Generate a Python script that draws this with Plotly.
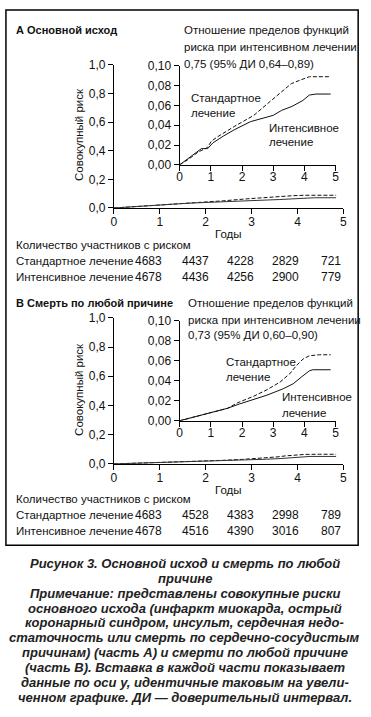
import plotly.graph_objects as go

W, H = 371, 717

# ---------------- data ----------------
years_A_int = [0, 0.3, 0.7, 0.9, 1.07, 1.4, 1.75, 2.27, 2.8, 3.0, 3.27, 3.6, 3.95, 4.16, 4.37, 4.84]
risk_A_int = [0, 0.007, 0.0164, 0.0164, 0.0223, 0.029, 0.0354, 0.0436, 0.048, 0.050, 0.055, 0.059, 0.065, 0.0705, 0.0715, 0.0715]
years_A_std = [0, 0.3, 0.6, 0.89, 1.02, 1.2, 1.75, 2.38, 2.9, 3.32, 3.58, 3.9, 4.16, 4.84]
risk_A_std = [0, 0.006, 0.013, 0.0175, 0.024, 0.028, 0.0387, 0.050, 0.064, 0.0748, 0.082, 0.086, 0.089, 0.089]

years_B_int = [0, 0.7, 1.54, 1.91, 2.27, 2.8, 3.32, 3.64, 3.9, 4.16, 4.27, 4.84]
risk_B_int = [0, 0.0059, 0.0125, 0.0167, 0.020, 0.0256, 0.032, 0.037, 0.0436, 0.050, 0.051, 0.051]
years_B_std = [0, 0.7, 1.54, 1.86, 2.38, 2.8, 3.22, 3.53, 3.74, 3.95, 4.16, 4.48, 4.84]
risk_B_std = [0, 0.006, 0.0125, 0.018, 0.0246, 0.031, 0.0387, 0.047, 0.055, 0.0616, 0.065, 0.066, 0.066]

x_ticks = [0, 1, 2, 3, 4, 5]
x_ticktext = ["0", "1", "2", "3", "4", "5"]
main_y_ticks = [0, 0.2, 0.4, 0.6, 0.8, 1.0]
main_y_ticktext = ["0,0", "0,2", "0,4", "0,6", "0,8", "1,0"]
inset_y_ticks = [0, 0.02, 0.04, 0.06, 0.08, 0.10]
inset_y_ticktext = ["0,00", "0,02", "0,04", "0,06", "0,08", "0,10"]

risk_A_std_n = [4683, 4437, 4228, 2829, 721]
risk_A_int_n = [4678, 4436, 4256, 2900, 779]
risk_B_std_n = [4683, 4528, 4383, 2998, 789]
risk_B_int_n = [4678, 4516, 4390, 3016, 807]

title_A = ["Отношение пределов функций", "риска при интенсивном лечении", "0,75 (95% ДИ 0,64–0,89)"]
title_B = ["Отношение пределов функций", "риска при интенсивном лечении", "0,73 (95% ДИ 0,60–0,90)"]

caption = [
    "Рисунок 3. Основной исход и смерть по любой",
    "причине",
    "Примечание: представлены совокупные риски",
    "основного исхода (инфаркт миокарда, острый",
    "коронарный синдром, инсульт, сердечная недо-",
    "статочность или смерть по сердечно-сосудистым",
    "причинам) (часть А) и смерти по любой причине",
    "(часть В). Вставка в каждой части показывает",
    "данные по оси у, идентичные таковым на увели-",
    "ченном графике. ДИ — доверительный интервал.",
]

# ---------------- layout helpers ----------------
def px(x):
    return x / W

def py(y):
    return 1 - y / H

FONT = "Liberation Sans, Arial, sans-serif"
TXT = "#111111"
FS = 11.5

fig = go.Figure()

def add_curves(xa, ya, xs_i, ys_i, xs_s, ys_s, solid_color):
    fig.add_trace(go.Scatter(x=xs_s, y=ys_s, mode="lines", xaxis=xa, yaxis=ya,
                             line=dict(color="#111111", width=1, dash="4px,2px"),
                             showlegend=False, hoverinfo="skip"))
    fig.add_trace(go.Scatter(x=xs_i, y=ys_i, mode="lines", xaxis=xa, yaxis=ya,
                             line=dict(color=solid_color, width=1),
                             showlegend=False, hoverinfo="skip"))

add_curves("x", "y", years_A_int, risk_A_int, years_A_std, risk_A_std, "#333333")
add_curves("x2", "y2", years_A_int, risk_A_int, years_A_std, risk_A_std, "#111111")
add_curves("x3", "y3", years_B_int, risk_B_int, years_B_std, risk_B_std, "#333333")
add_curves("x4", "y4", years_B_int, risk_B_int, years_B_std, risk_B_std, "#111111")

axis_common = dict(showline=True, linecolor="black", linewidth=1, ticks="outside",
                   ticklen=5, tickwidth=1, tickcolor="black", showgrid=False,
                   zeroline=False, fixedrange=True,
                   tickfont=dict(family=FONT, size=12, color=TXT))

main_xdom = [px(113), px(347)]
inset_xdom = [px(180), px(339)]

def xax(anchor, dom, standoff):
    d = dict(axis_common)
    d.update(domain=dom, range=[0, 5], tickvals=x_ticks, ticktext=x_ticktext, anchor=anchor,
             ticklabelstandoff=standoff)
    return d

def yax(anchor, dom, rng, tv, tt):
    d = dict(axis_common)
    d.update(domain=dom, range=rng, tickvals=tv, ticktext=tt, anchor=anchor)
    return d

layout = dict(
    width=W, height=H,
    margin=dict(l=0, r=0, t=0, b=0),
    paper_bgcolor="white", plot_bgcolor="rgba(0,0,0,0)",
    xaxis=xax("y", main_xdom, -2),
    yaxis=yax("x", [py(205), py(59)], [0, 1.0], main_y_ticks, main_y_ticktext),
    xaxis2=xax("y2", inset_xdom, -4),
    yaxis2=yax("x2", [py(161), py(60)], [0, 0.10], inset_y_ticks, inset_y_ticktext),
    xaxis3=xax("y3", main_xdom, -2),
    yaxis3=yax("x3", [py(466), py(317)], [0, 1.0], main_y_ticks, main_y_ticktext),
    xaxis4=xax("y4", inset_xdom, -4),
    yaxis4=yax("x4", [py(422), py(320)], [0, 0.10], inset_y_ticks, inset_y_ticktext),
)
fig.update_layout(**layout)

ann = []

def text(x, y, s, size=FS, bold=False, anchor="left", angle=0, color=TXT, italic=False):
    t = s
    if bold:
        t = "<b>" + t + "</b>"
    if italic:
        t = "<i>" + t + "</i>"
    ann.append(dict(x=px(x), y=py(y), xref="paper", yref="paper", text=t,
                    showarrow=False, xanchor=anchor, yanchor="middle", textangle=angle,
                    borderpad=0, font=dict(family=FONT, size=size, color=color)))

# Panel headers
text(12, 23, "А Основной исход", bold=True, size=11)
for i, s in enumerate(title_A):
    text(183, [23, 41, 58][i], s)
text(12, 302, "В Смерть по любой причине", bold=True, size=11)
for i, s in enumerate(title_B):
    text(188, [302, 319, 335][i], s)

# Axis titles
text(78, 130, "Совокупный риск", anchor="center", angle=-90)
text(78, 390, "Совокупный риск", anchor="center", angle=-90)
text(230, 232, "Годы", anchor="center")
text(230, 493, "Годы", anchor="center")

# Inset curve labels
text(191, 93, "Стандартное")
text(191, 108, "лечение")
text(270, 123, "Интенсивное")
text(270, 138, "лечение")
text(226, 362, "Стандартное")
text(226, 377, "лечение")
text(283, 398, "Интенсивное")
text(283, 414, "лечение")

# Number at risk tables
col_x = [148, 196, 242, 288, 334]
def table(y0, std_n, int_n):
    text(12, y0, "Количество участников с риском")
    text(12, y0 + 16, "Стандартное лечение")
    text(12, y0 + 32, "Интенсивное лечение")
    for cx, v in zip(col_x, std_n):
        text(cx, y0 + 16, str(v), anchor="center", size=12)
    for cx, v in zip(col_x, int_n):
        text(cx, y0 + 32, str(v), anchor="center", size=12)

table(243, risk_A_std_n, risk_A_int_n)
table(502, risk_B_std_n, risk_B_int_n)

# Caption
cap_y = [568, 583, 598, 613, 628, 643, 658, 674, 689, 704]
for yy, s in zip(cap_y, caption):
    text(185, yy, s, size=13, bold=True, italic=True, anchor="center", color="#222222")

fig.update_layout(annotations=ann)

# Border
fig.add_shape(type="rect", xref="paper", yref="paper",
              x0=px(3), x1=px(362), y0=py(549), y1=py(3),
              line=dict(color="black", width=1.5), fillcolor="rgba(0,0,0,0)")

fig.write_html("out.html", config=dict(displayModeBar=False),
               post_script="document.body.style.margin='0';document.body.style.overflow='hidden';")
